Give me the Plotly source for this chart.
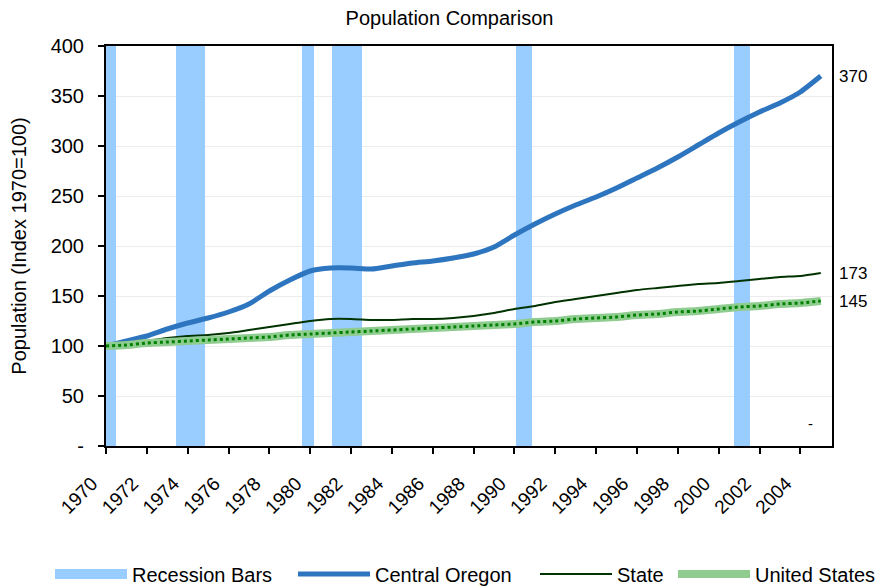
import plotly.graph_objects as go

years = list(range(1970, 2006))
central_oregon = [100, 105, 110, 117, 123, 128, 134, 142, 155, 166, 175, 178, 178, 177,
                  180, 183, 185, 188, 192, 199, 211, 222, 232, 241, 249, 258, 268, 278,
                  289, 301, 313, 324, 334, 343, 354, 370]
state = [100, 102, 105, 108, 110, 111, 113, 116, 119, 122, 125, 127, 127, 126,
         126, 127, 127, 128, 130, 133, 137, 140, 144, 147, 150, 153, 156, 158,
         160, 162, 163, 165, 167, 169, 170, 173]
united_states = [100, 101, 103, 104, 105, 106, 107, 108, 109, 111, 112, 113, 114, 115,
                 116, 117, 118, 119, 120, 121, 122, 124, 125, 127, 128, 129, 131, 132,
                 134, 135, 137, 139, 140, 142, 143, 145]
recession_start = [1970.0, 1973.43, 1979.59, 1981.06, 1990.08, 2000.74]
recession_end = [1970.49, 1974.85, 1980.17, 1982.53, 1990.87, 2001.52]
recession_height = 400

end_labels = ["370", "173", "145"]
y_tickvals = [0, 50, 100, 150, 200, 250, 300, 350, 400]
y_ticktext = ["-", "50", "100", "150", "200", "250", "300", "350", "400"]
x_tickvals = list(range(1970, 2006, 2))

FONT = "Liberation Sans, Arial, sans-serif"
REC_COLOR = "#99ccff"

fig = go.Figure()

# legend proxy for recession bars (wide rectangle symbol)
fig.add_trace(go.Scatter(
    x=[None], y=[None], mode="lines", name="Recession Bars",
    line=dict(color=REC_COLOR, width=15), legend="legend",
))

fig.add_trace(go.Bar(
    x=[(s + e) / 2 for s, e in zip(recession_start, recession_end)],
    y=[recession_height] * len(recession_start),
    width=[e - s for s, e in zip(recession_start, recession_end)],
    marker=dict(color=REC_COLOR, line=dict(width=0)),
    name="Recession Bars", showlegend=False,
    hoverinfo="skip",
))

fig.add_trace(go.Scatter(
    x=years, y=central_oregon, mode="lines", name="Central Oregon",
    line=dict(color="#2e75bf", width=5, shape="spline", smoothing=0.5),
    legend="legend2",
))

fig.add_trace(go.Scatter(
    x=years, y=state, mode="lines", name="State",
    line=dict(color="#003300", width=2, shape="spline", smoothing=0.5),
    legend="legend3",
))

fig.add_trace(go.Scatter(
    x=years, y=united_states, mode="lines", name="United States",
    legendgroup="us", legend="legend4",
    line=dict(color="#8fcc8f", width=8, shape="spline", smoothing=0.5),
))
fig.add_trace(go.Scatter(
    x=years, y=united_states, mode="lines", name="United States",
    legendgroup="us", showlegend=False, legend="legend4",
    line=dict(color="#008000", width=3, dash="dot", shape="spline", smoothing=0.5),
))

annotations = []
for txt, series in zip(end_labels, [central_oregon, state, united_states]):
    annotations.append(dict(
        x=1, xref="paper", xshift=5, y=series[-1], yref="y",
        text=txt, showarrow=False, xanchor="left", yanchor="middle",
        font=dict(family=FONT, size=17, color="#000000"),
    ))
annotations.append(dict(
    x=years[-1], xref="x", y=0, yref="y", yshift=12, xshift=-10,
    text="-", showarrow=False, xanchor="center", yanchor="bottom",
    font=dict(family=FONT, size=15, color="#000000"),
))

W, H = 883, 579  # page adds an 8px body margin


def leg(page_x):
    return dict(orientation="h", xref="container", x=(page_x - 8) / W, xanchor="left",
                yref="container", y=1 - (574 - 8) / H, yanchor="middle",
                font=dict(family=FONT, size=20, color="#000000"),
                itemwidth=72, bgcolor="rgba(0,0,0,0)")


fig.update_layout(
    width=W, height=H,
    margin=dict(l=98, r=59, t=38, b=141, autoexpand=False),
    paper_bgcolor="white", plot_bgcolor="white",
    font=dict(family=FONT, color="#000000"),
    title=dict(text="Population Comparison", x=0.5, xref="container",
               y=1 - 3 / H, yref="container", yanchor="top", pad=dict(t=0),
               font=dict(family=FONT, size=20, color="#000000")),
    bargap=0,
    showlegend=True,
    legend=leg(50),
    legend2=leg(293),
    legend3=leg(535),
    legend4=leg(673),
    annotations=annotations,
)

fig.update_xaxes(
    range=[1970, 2005.55],
    tickvals=x_tickvals, ticktext=[str(v) for v in x_tickvals],
    tickangle=-45,
    ticks="outside", ticklen=6, tickwidth=2, tickcolor="#000000",
    ticklabelstandoff=11, ticklabelshift=-14,
    showline=True, linecolor="#000000", linewidth=2, mirror=True,
    showgrid=False, zeroline=False,
    tickfont=dict(family=FONT, size=19, color="#000000"),
)
fig.update_yaxes(
    range=[0, 400],
    tickvals=y_tickvals, ticktext=y_ticktext,
    ticks="outside", ticklen=6, tickwidth=2, tickcolor="#000000",
    showline=True, linecolor="#000000", linewidth=2, mirror=True,
    showgrid=True, gridcolor="#ececec", gridwidth=1, zeroline=False,
    ticklabelstandoff=10,
    tickfont=dict(family=FONT, size=20, color="#000000"),
    title=dict(text="Population (Index 1970=100)", standoff=22,
               font=dict(family=FONT, size=20, color="#000000")),
)

fig.write_html("out.html")
